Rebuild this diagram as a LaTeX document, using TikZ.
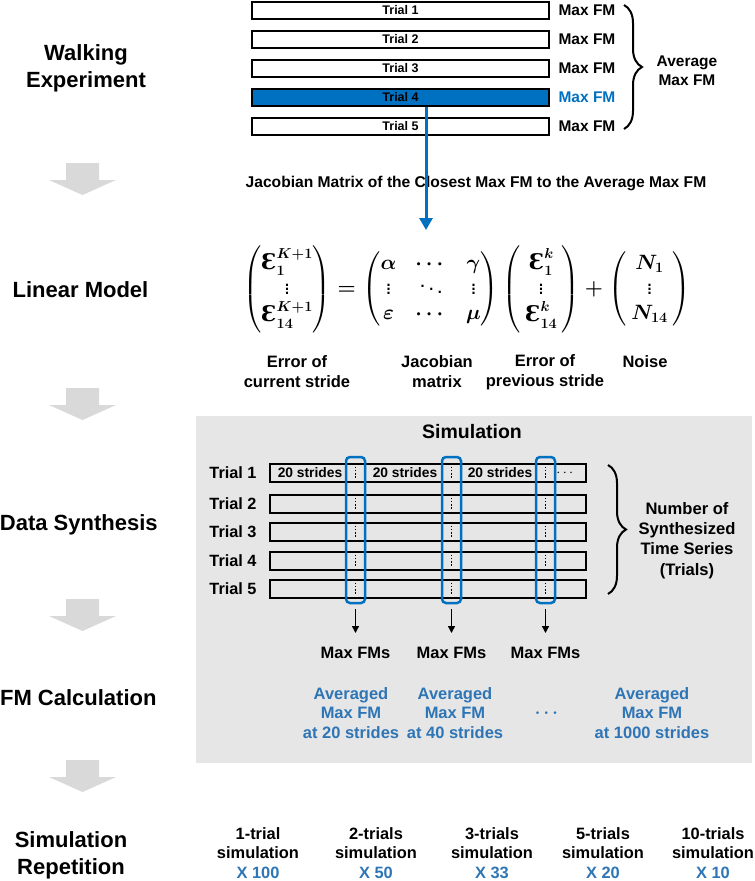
\documentclass[tikz,border=0pt]{standalone}
\usepackage{amsmath}
\usepackage{fontspec}
\setmainfont{Liberation Sans}
\newfontfamily\epsfont{DejaVu Serif}
\usetikzlibrary{decorations.pathreplacing,arrows.meta}
\definecolor{dblue}{HTML}{0070C0}
\definecolor{lblue}{HTML}{2E75B6}
\definecolor{arrgray}{HTML}{D9D9D9}
\definecolor{boxgray}{HTML}{E6E6E6}
\newcommand{\EE}{\text{\epsfont\bfseries Ɛ}}
\newcommand{\pd}[1]{\hspace{#1}}
\newsavebox{\eqbox}
\newcommand{\grayarrow}[1]{\fill[arrgray] (66,#1) -- (99,#1) -- (99,#1+17) -- (116,#1+17) -- (82.5,#1+32) -- (49,#1+17) -- (66,#1+17) -- cycle;}
\begin{document}
\sbox{\eqbox}{\fontsize{21.5}{25}\selectfont\boldmath$\begin{pmatrix}\EE_{1}^{K+1}\\ \vdots\\ \EE_{14}^{K+1}\end{pmatrix}=\setlength{\arraycolsep}{9.5pt}\begin{pmatrix}\alpha & \cdots & \gamma\\ \vdots & \ddots & \vdots\\ \varepsilon & \cdots & \mu\end{pmatrix}\setlength{\arraycolsep}{5pt}\begin{pmatrix}\pd{4pt}\EE_{1}^{k}\pd{4pt}\\ \vdots\\ \pd{4pt}\EE_{14}^{k}\pd{4pt}\end{pmatrix}+\begin{pmatrix}\pd{5pt}N_{1}\pd{5pt}\\ \vdots\\ \pd{5pt}N_{14}\pd{5pt}\end{pmatrix}$}%
\begin{tikzpicture}[x=1pt,y=-1pt,
  stage/.style={font=\bfseries\fontsize{22}{27}\selectfont, align=center, inner sep=0},
  tbox/.style={draw, line width=1.3pt, minimum width=297pt, minimum height=17pt, inner sep=0, font=\bfseries\fontsize{12.5}{14}\selectfont},
  maxfm/.style={font=\bfseries\fontsize{15.5}{19}\selectfont, inner sep=0, align=center},
  txt/.style={font=\bfseries\fontsize{16.5}{20}\selectfont, inner sep=0, align=center},
  rowbox/.style={draw, line width=1.2pt, minimum width=316pt, minimum height=18pt, inner sep=0},
  selbox/.style={draw=dblue, line width=2.5pt, rounded corners=4pt, minimum width=19pt, minimum height=146pt, inner sep=0},
  dotline/.style={line width=1.8pt, dash pattern=on 1.6pt off 1.7pt},
  smalltxt/.style={font=\bfseries\fontsize{13.8}{16}\selectfont, inner sep=0},
  blk/.style={line width=1.5pt, -{Triangle[length=7pt,width=7pt]}},
  bluetxt/.style={txt, text=lblue, font=\bfseries\fontsize{16.5}{19.5}\selectfont},
  bigbrace/.style={decorate, decoration={brace, amplitude=18pt}, line width=2pt}
]
\useasboundingbox (0,0) rectangle (755,881);

% left stage labels
\node[stage] (s1) at (86,68.5) {Walking\\Experiment};
\node[stage] (s2) at (80.5,290) {Linear Model};
\node[stage] (s3) at (78.8,525) {Data Synthesis};
\node[stage] (s4) at (78.3,698) {FM Calculation};
\node[stage] (s5) at (71,855) {Simulation\\Repetition};
\grayarrow{163}
\grayarrow{388}
\grayarrow{599}
\grayarrow{760}

% walking experiment trials
\node[tbox] (t1) at (400.5,10.5) {Trial 1};
\node[tbox] (t2) at (400.5,39.5) {Trial 2};
\node[tbox] (t3) at (400.5,68.5) {Trial 3};
\node[tbox, fill=dblue] (t4) at (400.5,97.5) {Trial 4};
\node[tbox] (t5) at (400.5,126.5) {Trial 5};
\node[maxfm] (f1) at (587,10.5) {Max FM};
\node[maxfm] (f2) at (587,39.5) {Max FM};
\node[maxfm] (f3) at (587,68.5) {Max FM};
\node[maxfm, text=dblue] (f4) at (587,97.5) {Max FM};
\node[maxfm] (f5) at (587,126.5) {Max FM};
\coordinate (br1a) at (624,5);
\coordinate (br1b) at (624,129);
\draw[bigbrace] (br1a) -- (br1b);
\node[maxfm] (avg) at (687,71) {Average\\Max FM};

% Jacobian text and blue arrow
\node[maxfm, font=\bfseries\fontsize{15.6}{19}\selectfont] (jac) at (476,183) {Jacobian Matrix of the Closest Max FM to the Average Max FM};
\coordinate (eqtop) at (426,230);
\draw[dblue, line width=3pt, -{Triangle[length=12pt,width=13pt]}] (t4.south -| eqtop) -- (eqtop);

% equation
\node[inner sep=0] (eq) at (467,289) {\usebox{\eqbox}};
\node[txt] (l1) at (297,372) {Error of\\current stride};
\node[txt] (l2) at (437,372) {Jacobian\\matrix};
\node[txt] (l3) at (545,372) {Error of\\previous stride};
\node[txt] (l4) at (645,362) {Noise};

% simulation panel
\fill[boxgray] (196,416) rectangle (752,763);
\node[txt, font=\bfseries\fontsize{19.5}{23}\selectfont] (simt) at (472,432) {Simulation};
\foreach \i/\y in {1/473,2/504,3/532,4/561,5/589}{
  \node[txt, font=\bfseries\fontsize{16.3}{19}\selectfont] (tl\i) at (233,\y) {Trial \i};
  \node[rowbox] (r\i) at (428,\y) {};
  \foreach \x in {355.5,451.5,545.5}{
    \draw[dotline] (\x,\y-6.5) -- (\x,\y+6.5);
  }
}
\node[smalltxt] (s20a) at (310,473) {20 strides};
\node[smalltxt] (s20b) at (405,473) {20 strides};
\node[smalltxt] (s20c) at (500,473) {20 strides};
\node[smalltxt] (sdots) at (566,473) {$\cdots$};
\node[selbox] (b1) at (355.5,530) {};
\node[selbox] (b2) at (451.5,530) {};
\node[selbox] (b3) at (545.5,530) {};
\coordinate (br2a) at (608,465);
\coordinate (br2b) at (608,594);
\draw[bigbrace] (br2a) -- (br2b);
\node[txt, font=\bfseries\fontsize{16.6}{20.3}\selectfont] (nsyn) at (687,540.5) {Number of\\Synthesized\\Time Series\\(Trials)};

\node[txt] (m1) at (355.5,653) {Max FMs};
\node[txt] (m2) at (451.5,653) {Max FMs};
\node[txt] (m3) at (545.5,653) {Max FMs};
\coordinate (a1) at (355.5,633);
\coordinate (a2) at (451.5,633);
\coordinate (a3) at (545.5,633);
\draw[blk] ([yshift=-5pt]b1.south) -- (a1);
\draw[blk] ([yshift=-5pt]b2.south) -- (a2);
\draw[blk] ([yshift=-5pt]b3.south) -- (a3);

\node[bluetxt] (v1) at (351,713) {Averaged\\Max FM\\at 20 strides};
\node[bluetxt] (v2) at (455,713) {Averaged\\Max FM\\at 40 strides};
\node[bluetxt] (vd) at (548,713) {$\boldsymbol{\cdots}$};
\node[bluetxt] (v3) at (652,713) {Averaged\\Max FM\\at 1000 strides};

% repetition row
\node[txt, font=\bfseries\fontsize{16.4}{19.5}\selectfont] (p1) at (258,853) {1-trial\\simulation\\\textcolor{lblue}{X 100}};
\node[txt, font=\bfseries\fontsize{16.4}{19.5}\selectfont] (p2) at (376,853) {2-trials\\simulation\\\textcolor{lblue}{X 50}};
\node[txt, font=\bfseries\fontsize{16.4}{19.5}\selectfont] (p3) at (492,853) {3-trials\\simulation\\\textcolor{lblue}{X 33}};
\node[txt, font=\bfseries\fontsize{16.4}{19.5}\selectfont] (p4) at (603,853) {5-trials\\simulation\\\textcolor{lblue}{X 20}};
\node[txt, font=\bfseries\fontsize{16.4}{19.5}\selectfont] (p5) at (713,853) {10-trials\\simulation\\\textcolor{lblue}{X 10}};
\end{tikzpicture}
\end{document}
